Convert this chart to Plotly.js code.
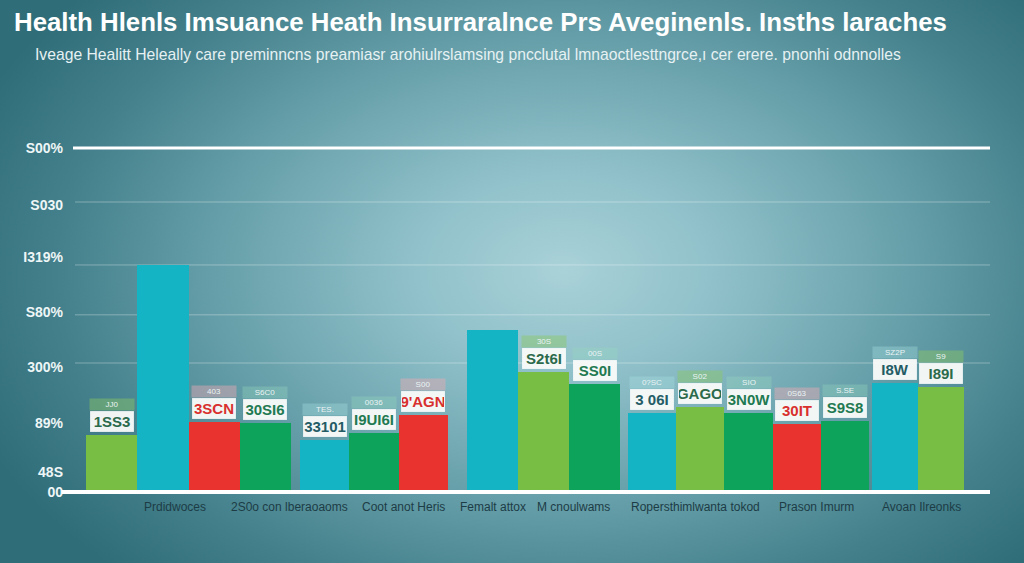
<!DOCTYPE html>
<html>
<head>
<meta charset="utf-8">
<script src="https://cdn.plot.ly/plotly-3.0.1.min.js"></script>
<style>
html, body { margin: 0; padding: 0; }
#chart {
  width: 1024px; height: 563px;
  background: radial-gradient(ellipse 62% 75% at 55% 48%, #a9d1d8 0%, #8fc0c9 25%, #669fa9 55%, #43808b 80%, #2f6d78 100%);
}
</style>
</head>
<body>
<div id="chart"></div>
<script>
// ---------- data ----------
const titleText = "Health Hlenls Imsuance Heath Insurraralnce Prs Aveginenls. Insths laraches";
const subtitleText = "Iveage Healitt Heleally care preminncns preamiasr arohiulrslamsing pncclutal lmnaoctlesttngrce,ı cer erere. pnonhi odnnolles";

const categoryLabels = ["Prdidwoces", "2S0o con lberaoaoms", "Coot anot Heris", "Femalt attox",
                        "M cnoulwams", "Ropersthimlwanta tokod", "Prason Imurm", "Avoan Ilreonks"];

const yTickVals   = [100, 83.4, 68.3, 52.3, 36.4, 20.1, 5.8, 0];
const yTickLabels = ["S00%", "S030", "I319%", "S80%", "300%", "89%", "48S", "00"];
const gridVals    = [84.3, 66.0, 51.5, 37.5];

const barGroup  = [0, 0, 0, 0, 1, 1, 1, 2, 2, 2, 3, 3, 3, 3, 3, 4, 4];
const barSeries = ["light", "teal", "red", "dark", "teal", "dark", "red", "teal", "light",
                   "dark", "teal", "light", "dark", "red", "dark", "teal", "light"];
const barValues = [16.6, 66.0, 20.3, 20.1, 15.1, 17.2, 22.4, 47.1, 34.9,
                   31.4, 23.0, 24.7, 23.0, 19.8, 20.6, 31.7, 30.5];
const barLabels = ["1SS3", "", "3SCN", "30SI6", "33101", "I9UI6I", "9'AGN", "", "S2t6I",
                   "SS0I", "3 06I", "GAGO", "3N0W", "30IT", "S9S8", "I8W", "I89I"];
const barSubLabels = ["JJ0", "", "403", "S6C0", "TES.", "0036", "S00", "", "30S",
                      "00S", "0?SC", "S02", "SIO", "0S63", "S.SE", "SZ2P", "S9"];

// ---------- styles / layout ----------
const FONT = '"Liberation Sans", Arial, sans-serif';
const seriesColor = { light: "#78be45", teal: "#14b4c4", red: "#e8332e", dark: "#0ea35b" };
const labelTextColor = { light: "#2c6a4c", teal: "#245c66", red: "#d8302e", dark: "#1f7a52" };
const lidColor = { light: "rgba(140,200,100,0.45)", teal: "rgba(170,225,225,0.35)",
                   red: "rgba(235,170,180,0.45)", dark: "rgba(150,215,190,0.35)" };

const PLOT_L = 75, PLOT_R = 990, PLOT_T = 148, PLOT_B = 492;
const PW = PLOT_R - PLOT_L, PH = PLOT_B - PLOT_T;
const groupSpans = [[86, 291], [300, 448], [467, 620], [628, 869], [872, 964]];
const labelCenters = [175, 289, 403, 493, 573, 695, 816, 921];

const traces = [];
const layout = {
  width: 1024, height: 563,
  margin: { l: PLOT_L, r: 1024 - PLOT_R, t: PLOT_T, b: 563 - PLOT_B, pad: 0 },
  paper_bgcolor: "rgba(0,0,0,0)", plot_bgcolor: "rgba(0,0,0,0)",
  showlegend: false, bargap: 0,
  title: { text: "<b>" + titleText + "</b>", font: { family: FONT, size: 25.8, color: "#ffffff" },
           x: 14 / 1024, xanchor: "left", xref: "container", y: 1 - 22 / 563, yanchor: "middle", yref: "container" },
  yaxis: { range: [0, 100], anchor: "free", position: 0, tickvals: yTickVals, ticktext: yTickLabels,
           showgrid: false, zeroline: false, showline: false, ticks: "", ticklen: 0, ticklabelstandoff: 12,
           tickfont: { family: FONT, size: 14, color: "#eef6f7", weight: "bold" }, fixedrange: true },
  shapes: [], annotations: []
};

const nGroups = groupSpans.length;
for (let g = 0; g < nGroups; g++) {
  const idx = [];
  barGroup.forEach((gg, i) => { if (gg === g) idx.push(i); });
  const axName = g === 0 ? "x" : "x" + (g + 1);
  const axKey = g === 0 ? "xaxis" : "xaxis" + (g + 1);
  layout[axKey] = {
    domain: [(groupSpans[g][0] - PLOT_L) / PW, (groupSpans[g][1] - PLOT_L) / PW],
    anchor: "y", range: [-0.5, idx.length - 0.5], type: "linear",
    showgrid: false, zeroline: false, showticklabels: false, showline: false, ticks: "", fixedrange: true
  };
  traces.push({
    type: "bar", xaxis: axName, yaxis: "y",
    x: idx.map((_, k) => k), y: idx.map(i => barValues[i]),
    marker: { color: idx.map(i => seriesColor[barSeries[i]]), line: { width: 0 } },
    hoverinfo: "skip"
  });
  idx.forEach((i, k) => {
    if (!barLabels[i]) return;
    const s = barSeries[i];
    layout.annotations.push({
      xref: axName, yref: "y", x: k, y: barValues[i], yanchor: "bottom", yshift: 24,
      text: barSubLabels[i], showarrow: false, width: 44, height: 11,
      bgcolor: lidColor[s], borderpad: 0,
      font: { family: FONT, size: 8, color: "#eaf3f4" }
    });
    layout.annotations.push({
      xref: axName, yref: "y", x: k, y: barValues[i], yanchor: "bottom", yshift: 3,
      text: "<b>" + barLabels[i] + "</b>", showarrow: false, width: 42, height: 19,
      bgcolor: "rgba(248,250,248,0.96)", bordercolor: "rgba(255,255,255,0.7)", borderwidth: 1, borderpad: 0,
      font: { family: FONT, size: 15, color: labelTextColor[s] }
    });
  });
}

// gridlines and thick frame lines
gridVals.forEach(v => layout.shapes.push({
  type: "line", xref: "paper", yref: "paper", x0: 0, x1: 1, y0: v / 100, y1: v / 100,
  line: { color: "rgba(255,255,255,0.32)", width: 1 }, layer: "below"
}));
layout.shapes.push({ type: "line", xref: "paper", yref: "paper", x0: -2 / PW, x1: 1, y0: 1, y1: 1,
  line: { color: "#ffffff", width: 3 } });
layout.shapes.push({ type: "line", xref: "paper", yref: "paper", x0: -13 / PW, x1: 1, y0: 0, y1: 0,
  line: { color: "#ffffff", width: 4 } });

// subtitle
layout.annotations.push({
  xref: "paper", yref: "paper", x: (33 - PLOT_L) / PW, y: (PLOT_B - 55) / PH, xanchor: "left", yanchor: "middle",
  text: subtitleText, showarrow: false, font: { family: FONT, size: 15.7, color: "#e6f1f3" }
});

// category labels
categoryLabels.forEach((t, i) => layout.annotations.push({
  xref: "paper", yref: "paper", x: (labelCenters[i] - PLOT_L) / PW, y: (PLOT_B - 507) / PH,
  xanchor: "center", yanchor: "middle", text: t, showarrow: false,
  font: { family: FONT, size: 12, color: "#1d3c46" }
}));

Plotly.newPlot("chart", traces, layout, { displayModeBar: false, staticPlot: true });
</script>
</body>
</html>
